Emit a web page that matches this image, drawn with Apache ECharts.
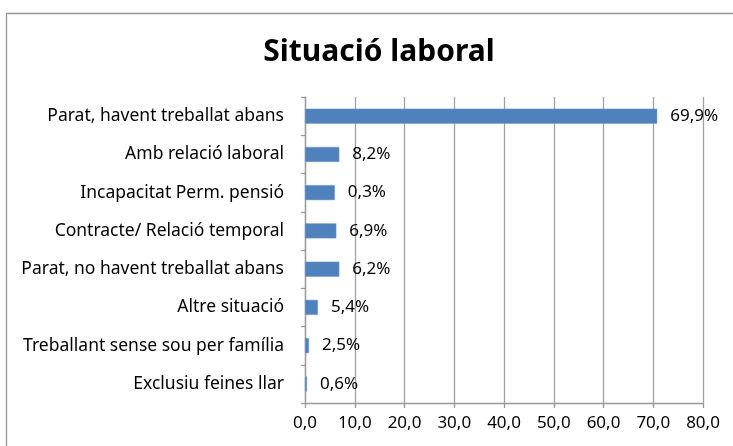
<!DOCTYPE html>
<html>
<head>
<meta charset="utf-8">
<script src="https://cdn.jsdelivr.net/npm/echarts@6/dist/echarts.min.js"></script>
<style>
html, body { margin: 0; padding: 0; background: #fff; }
#main { width: 733px; height: 446px; }
</style>
</head>
<body>
<div id="main"></div>
<script>
// categories, top to bottom as in the picture
var categories = [
    'Parat, havent treballat abans',
    'Amb relació laboral',
    'Incapacitat Perm. pensió',
    'Contracte/ Relació temporal',
    'Parat, no havent treballat abans',
    'Altre situació',
    'Treballant sense sou per família',
    'Exclusiu feines llar'
];
// bar lengths as drawn
var barValues = [70.8, 6.9, 6.0, 6.3, 6.9, 2.6, 0.8, 0.4];
// label texts as printed next to the bars
var barLabels = ['69,9%', '8,2%', '0,3%', '6,9%', '6,2%', '5,4%', '2,5%', '0,6%'];
var xTicks = [0, 10, 20, 30, 40, 50, 60, 70, 80];

var font = 'Noto Sans';
var myChart = echarts.init(document.getElementById('main'));

var option = {
    animation: false,
    title: {
        text: 'Situació laboral',
        left: 374,
        textAlign: 'center',
        top: 32,
        textStyle: { fontFamily: font, fontSize: 30, fontWeight: 'bold', color: '#000' }
    },
    graphic: [{
        type: 'rect',
        shape: { x: 6.5, y: 13.5, width: 740, height: 450 },
        style: { fill: 'none', stroke: '#969696', lineWidth: 1.3 },
        silent: true
    }],
    grid: { left: 305, right: 30, top: 97, bottom: 43 },
    xAxis: {
        type: 'value',
        min: xTicks[0],
        max: xTicks[xTicks.length - 1],
        interval: 10,
        axisLine: { show: true, lineStyle: { color: '#999', width: 1.3 } },
        axisTick: { show: true, length: 5, lineStyle: { color: '#999', width: 1.3 } },
        splitLine: { show: true, lineStyle: { color: '#a0a0a0', width: 1.3 } },
        axisLabel: {
            margin: 12,
            fontFamily: font, fontSize: 17, color: '#000',
            formatter: function (v) { return v.toFixed(1).replace('.', ','); }
        }
    },
    yAxis: {
        type: 'category',
        inverse: true,
        data: categories,
        axisLine: { show: true, lineStyle: { color: '#999', width: 1.3 } },
        axisTick: { show: true, length: 4, lineStyle: { color: '#999', width: 1.3 } },
        axisLabel: { margin: 21, fontFamily: font, fontSize: 17.5, color: '#000' }
    },
    series: [{
        type: 'bar',
        data: barValues,
        barWidth: 15,
        itemStyle: { color: '#4f81bd', borderColor: '#6f97c9', borderWidth: 0.5 },
        label: {
            show: true,
            position: 'right',
            distance: 13,
            fontFamily: font, fontSize: 17, color: '#000',
            formatter: function (p) { return barLabels[p.dataIndex]; }
        }
    }]
};
myChart.setOption(option);
</script>
</body>
</html>
